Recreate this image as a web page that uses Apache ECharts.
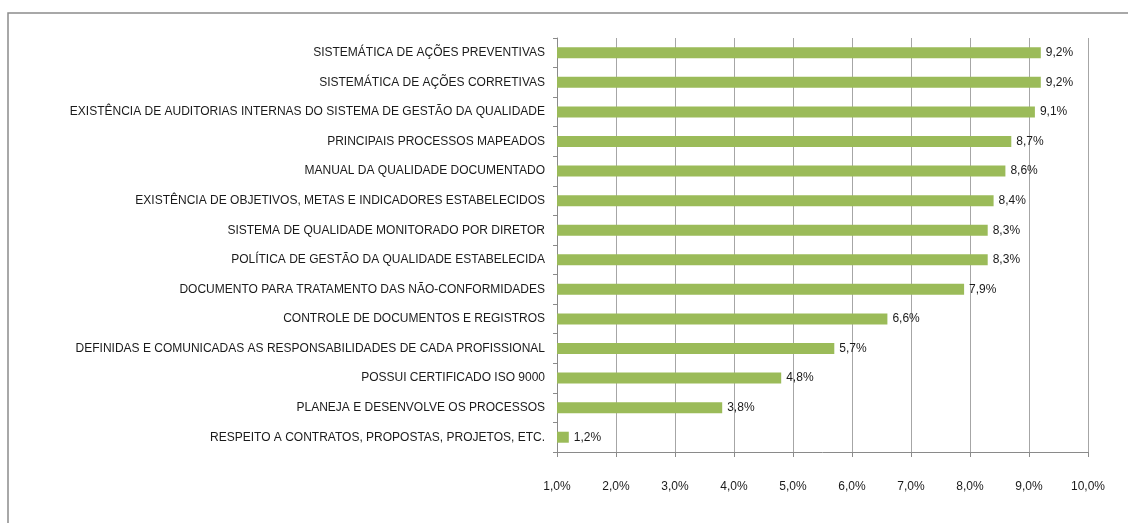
<!DOCTYPE html>
<html>
<head>
<meta charset="utf-8">
<script src="https://cdn.jsdelivr.net/npm/echarts@6/dist/echarts.min.js"></script>
<style>
  html, body { margin: 0; padding: 0; background: #fcfcfc; }
  #chart { width: 1128px; height: 523px; }
</style>
</head>
<body>
<div id="chart"></div>
<script>
// requisitos do sistema de qualidade (de cima para baixo)
var categories = [
  'SISTEMÁTICA DE AÇÕES PREVENTIVAS',
  'SISTEMÁTICA DE AÇÕES CORRETIVAS',
  'EXISTÊNCIA DE AUDITORIAS INTERNAS DO SISTEMA DE GESTÃO DA QUALIDADE',
  'PRINCIPAIS PROCESSOS MAPEADOS',
  'MANUAL DA QUALIDADE DOCUMENTADO',
  'EXISTÊNCIA DE OBJETIVOS, METAS E INDICADORES ESTABELECIDOS',
  'SISTEMA DE QUALIDADE MONITORADO POR DIRETOR',
  'POLÍTICA DE GESTÃO DA QUALIDADE ESTABELECIDA',
  'DOCUMENTO PARA TRATAMENTO DAS NÃO-CONFORMIDADES',
  'CONTROLE DE DOCUMENTOS E REGISTROS',
  'DEFINIDAS E COMUNICADAS AS RESPONSABILIDADES DE CADA PROFISSIONAL',
  'POSSUI CERTIFICADO ISO 9000',
  'PLANEJA E DESENVOLVE OS PROCESSOS',
  'RESPEITO A CONTRATOS, PROPOSTAS, PROJETOS, ETC.'
];
var percentages = [9.2, 9.2, 9.1, 8.7, 8.6, 8.4, 8.3, 8.3, 7.9, 6.6, 5.7, 4.8, 3.8, 1.2];

var axisMin = 1;
var axisMax = 10;

function pct(v) {
  return v.toFixed(1).replace('.', ',') + '%';
}

var font = '"Liberation Sans Narrow", "Liberation Sans", Arial, sans-serif';

var chart = echarts.init(document.getElementById('chart'));

chart.setOption({
  backgroundColor: '#ffffff',
  animation: false,
  graphic: [{
    type: 'rect',
    shape: { x: 8, y: 13, width: 1300, height: 700 },
    style: { fill: 'transparent', stroke: '#8c8c8c', lineWidth: 1.5 },
    silent: true
  }],
  grid: {
    left: 557,
    right: 40,
    top: 38,
    bottom: 71
  },
  xAxis: {
    type: 'value',
    min: axisMin,
    max: axisMax,
    interval: 1,
    axisLine: { show: true, lineStyle: { color: '#8a8a8a', width: 1 } },
    axisTick: { show: true, length: 5, lineStyle: { color: '#8a8a8a' } },
    splitLine: { show: true, lineStyle: { color: '#a6a6a6', width: 1 } },
    axisLabel: {
      margin: 29,
      fontFamily: font,
      fontSize: 12,
      color: '#1a1a1a',
      formatter: function (v) { return pct(v); }
    }
  },
  yAxis: {
    type: 'category',
    data: categories,
    inverse: true,
    axisLine: { show: true, lineStyle: { color: '#8a8a8a', width: 1 } },
    axisTick: { show: true, length: 4, lineStyle: { color: '#8a8a8a' } },
    axisLabel: {
      margin: 12,
      fontFamily: font,
      fontSize: 12,
      color: '#1a1a1a'
    }
  },
  series: [{
    type: 'bar',
    data: percentages,
    barWidth: 11,
    clip: true,
    itemStyle: { color: '#9bbb59' },
    label: {
      show: true,
      position: 'right',
      distance: 5,
      fontFamily: font,
      fontSize: 12,
      color: '#1a1a1a',
      formatter: function (p) { return pct(p.value); }
    }
  }]
});
</script>
</body>
</html>
